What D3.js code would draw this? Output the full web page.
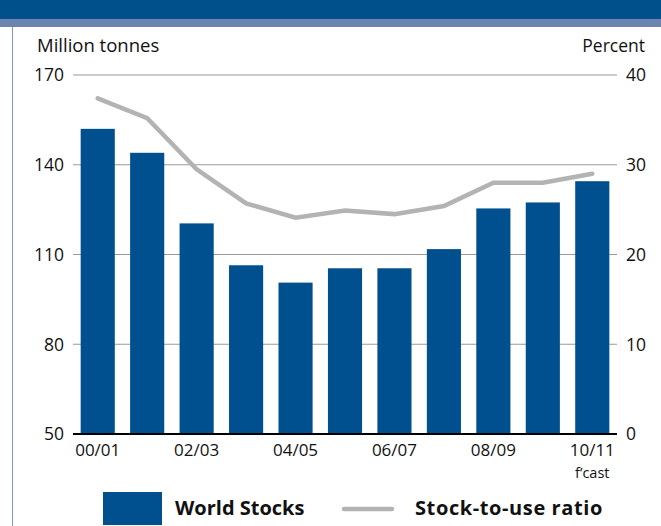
<!DOCTYPE html>
<html><head><meta charset="utf-8">
<script src="https://cdn.jsdelivr.net/npm/d3@7"></script>
<style>body{margin:0;background:#fff}svg{display:block;font-family:"Open Sans",sans-serif}</style>
</head><body>
<script>
const categories = ["00/01","01/02","02/03","03/04","04/05","05/06","06/07","07/08","08/09","09/10","10/11"];
const tickCategories = ["00/01","02/03","04/05","06/07","08/09","10/11"];
const forecastNote = {"10/11": "f\u2019cast"};
const worldStocks = [152, 144, 120.4, 106.4, 100.6, 105.4, 105.4, 111.8, 125.4, 127.4, 134.5];
const stockToUse = [37.4, 35.2, 29.5, 25.7, 24.1, 24.9, 24.5, 25.4, 28.0, 28.0, 29.0];
const leftTicks = [50, 80, 110, 140, 170];
const rightTicks = [0, 10, 20, 30, 40];

const W = 661, H = 526;
const svg = d3.select("body").append("svg").attr("width", W).attr("height", H);

// header bands
svg.append("rect").attr("x",0).attr("y",0).attr("width",W).attr("height",19).attr("fill","#00508c");
svg.append("rect").attr("x",0).attr("y",19).attr("width",W).attr("height",8).attr("fill","#6e84b0");
svg.append("line").attr("x1",12.5).attr("x2",12.5).attr("y1",27).attr("y2",H).attr("stroke","#7f98bb").attr("stroke-width",1);

const x = d3.scaleBand().domain(categories).range([73, 617]).paddingInner(0.31).paddingOuter(0.155);
const yL = d3.scaleLinear().domain([50,170]).range([434,75]);
const yR = d3.scaleLinear().domain([0,40]).range([434,75]);

// gridlines
svg.append("g").selectAll("line").data(leftTicks.slice(1)).join("line")
  .attr("x1",73).attr("x2",617).attr("y1",d=>yL(d)).attr("y2",d=>yL(d))
  .attr("stroke","#9a9a9a").attr("stroke-width",1.2);

const fs = 17.5;
// left labels
svg.append("g").selectAll("text").data(leftTicks).join("text")
  .attr("x",64).attr("y",d=>yL(d)).attr("dy","0.36em").attr("text-anchor","end")
  .attr("font-size",fs).attr("fill","#111").text(d=>d);
svg.append("g").selectAll("text").data(rightTicks).join("text")
  .attr("x",626).attr("y",d=>yR(d)).attr("dy","0.36em").attr("text-anchor","start")
  .attr("font-size",fs).attr("fill","#111").text(d=>d);

svg.append("text").attr("x",37).attr("y",52).attr("font-size",18.5).attr("fill","#111").text("Million tonnes");
svg.append("text").attr("x",645).attr("y",52).attr("text-anchor","end").attr("font-size",fs).attr("fill","#111").text("Percent");

// bars
svg.append("g").selectAll("rect").data(worldStocks).join("rect")
  .attr("x",(d,i)=>x(categories[i])).attr("width",x.bandwidth())
  .attr("y",d=>yL(d)).attr("height",d=>yL(50)-yL(d))
  .attr("fill","#00508f");

// baseline
svg.append("line").attr("x1",73).attr("x2",617).attr("y1",434).attr("y2",434).attr("stroke","#000").attr("stroke-width",2.2);

// line
const line = d3.line().x((d,i)=>x(categories[i])+x.bandwidth()/2).y(d=>yR(d));
svg.append("path").datum(stockToUse).attr("d",line).attr("fill","none")
  .attr("stroke","#b3b3b3").attr("stroke-width",4.5).attr("stroke-linecap","round").attr("stroke-linejoin","miter");

// x labels
svg.append("g").selectAll("text").data(tickCategories).join("text")
  .attr("x",d=>x(d)+x.bandwidth()/2).attr("y",456).attr("text-anchor","middle")
  .attr("font-size",17).attr("fill","#111").text(d=>d);
svg.append("g").selectAll("text").data(tickCategories.filter(d=>forecastNote[d])).join("text")
  .attr("x",d=>x(d)+x.bandwidth()/2).attr("y",477.5).attr("text-anchor","middle")
  .attr("font-size",14.5).attr("fill","#111").text(d=>forecastNote[d]);

// legend
svg.append("rect").attr("x",103).attr("y",492).attr("width",59).attr("height",33).attr("fill","#00508f");
svg.append("text").attr("x",175).attr("y",515).attr("font-size",20).attr("font-weight","bold").attr("fill","#111").text("World Stocks");
svg.append("line").attr("x1",344).attr("x2",392).attr("y1",509).attr("y2",509).attr("stroke","#b3b3b3").attr("stroke-width",4.5).attr("stroke-linecap","round");
svg.append("text").attr("x",415).attr("y",515).attr("font-size",20).attr("font-weight","bold").attr("letter-spacing",0.6).attr("fill","#111").text("Stock-to-use ratio");
</script>
</body></html>
